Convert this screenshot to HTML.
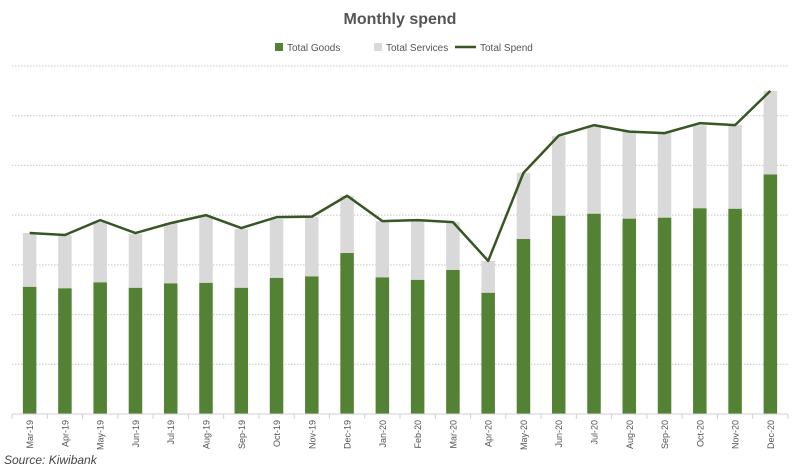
<!DOCTYPE html>
<html><head><meta charset="utf-8"><style>
body{margin:0;background:#fff;width:800px;height:469px;overflow:hidden;font-family:"Liberation Sans",Arial,sans-serif}
</style></head><body>
<svg id="chart" width="800" height="469" xmlns="http://www.w3.org/2000/svg">
<text x="400" y="24" text-anchor="middle" font-size="16" font-weight="bold" fill="#555">Monthly spend</text>
<g font-size="10" fill="#555">
<rect x="275" y="43" width="8" height="8" fill="#548235"/>
<text x="287" y="51">Total Goods</text>
<rect x="374" y="43" width="8" height="8" fill="#d9d9d9"/>
<text x="386" y="51">Total Services</text>
<line x1="455" y1="47" x2="476" y2="47" stroke="#375623" stroke-width="2.5"/>
<text x="480" y="51">Total Spend</text>
</g>
<g id="grid"></g><g id="bars"></g><g id="axis"></g><g id="line"></g>
<text x="4" y="464" font-size="12" font-style="italic" fill="#444">Source: Kiwibank</text>
</svg>
<script>
const categories=["Mar-19","Apr-19","May-19","Jun-19","Jul-19","Aug-19","Sep-19","Oct-19","Nov-19","Dec-19","Jan-20","Feb-20","Mar-20","Apr-20","May-20","Jun-20","Jul-20","Aug-20","Sep-20","Oct-20","Nov-20","Dec-20"];
const goods=[256,253,265,254,263,264,254,274,277,324,275,270,290,244,352,399,403,393,395,414,413,482];
const services=[108,107,121,108,121,134,118,118,119,115,113,118,96,64,133,160,176,176,170,167,168,168];
const spend=[364,360,390,364,384,400,374,396,397,439,388,390,386,308,485,560,581,568,565,585,581,650];
const gridValues=[0,100,200,300,400,500,600,700];
const L=12,R=788,B=414,T=66,MAX=700;
const NS="http://www.w3.org/2000/svg";
const bw=(R-L)/categories.length;
function x(i){return L+bw*(i+0.5);}
function y(v){return B-(v/MAX)*(B-T);}
function mk(t,a,p){const e=document.createElementNS(NS,t);for(const k in a)e.setAttribute(k,a[k]);p.appendChild(e);return e;}
const grid=document.getElementById('grid'),bars=document.getElementById('bars'),axis=document.getElementById('axis'),line=document.getElementById('line');
gridValues.forEach(v=>{if(v===0)return;const g=mk('line',{x1:L,x2:R,y1:y(v),y2:y(v),stroke:'#c8c8c8','stroke-width':1,'stroke-dasharray':'1.5,1.5'},grid);

});
categories.forEach((c,i)=>{
 const w=13.5;
 const gs=mk('rect',{x:x(i)-w/2,y:y(goods[i]),width:w,height:y(0)-y(goods[i]),fill:'#548235'},bars);
 
 
 const ss=mk('rect',{x:x(i)-w/2,y:y(goods[i]+services[i]),width:w,height:y(goods[i])-y(goods[i]+services[i]),fill:'#d9d9d9'},bars);
 
 
 const t=mk('text',{transform:`translate(${x(i)+3.5},420) rotate(-90)`,'text-anchor':'end','font-size':9,fill:'#555'},axis);
 t.textContent=c;
 
 
});
for(let i=0;i<=categories.length;i++){const tk=mk('line',{x1:L+bw*i,x2:L+bw*i,y1:B,y2:B+5,stroke:'#d0d0d0'},axis);

}
const base=mk('line',{x1:L,x2:R,y1:B,y2:B,stroke:'#d0d0d0','stroke-width':1},axis);


const pl=mk('polyline',{points:spend.map((v,i)=>x(i)+','+y(v)).join(' '),fill:'none',stroke:'#375623','stroke-width':2.5,'stroke-linejoin':'round'},line);


</script>
</body></html>
